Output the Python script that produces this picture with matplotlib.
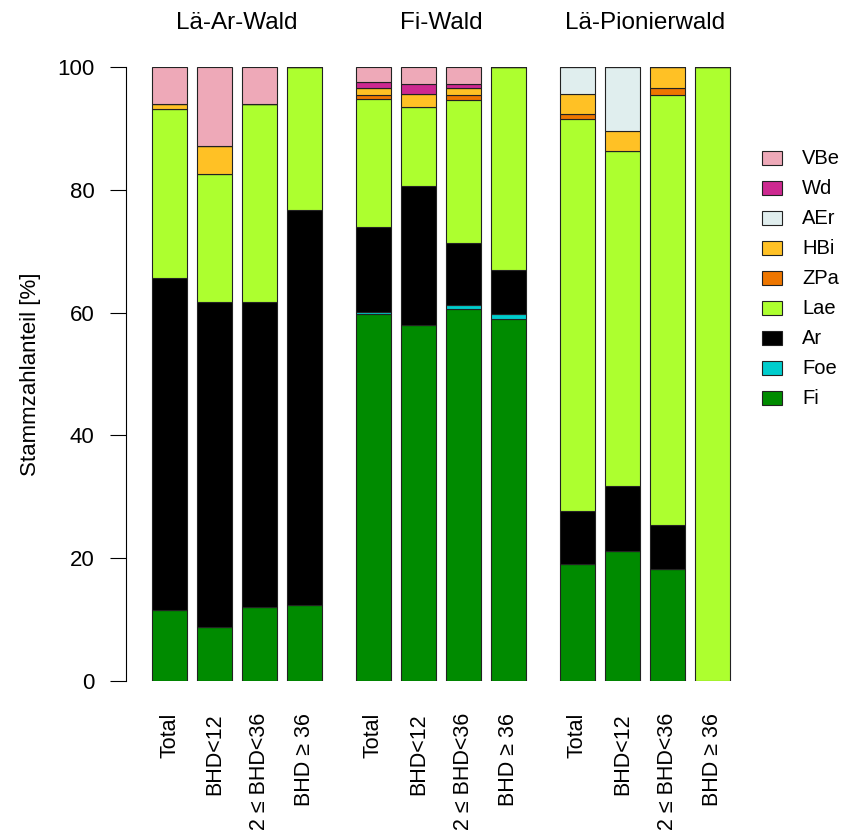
import matplotlib.pyplot as plt
import numpy as np
from matplotlib.patches import Rectangle

plt.rcParams['font.family'] = ['Liberation Sans', 'DejaVu Sans']

groups = ['Lä-Ar-Wald', 'Fi-Wald', 'Lä-Pionierwald']
classes = ['Total', 'BHD<12', '12 ≤ BHD<36', 'BHD ≥ 36']

# species from bottom to top, 12 bars (3 groups x 4 classes)
species = ['Fi', 'Foe', 'Ar', 'Lae', 'ZPa', 'HBi', 'AEr', 'Wd', 'VBe']
Fi  = [11.6, 8.8, 12.0, 12.3,  59.8, 58.0, 60.6, 59.0,  19.1, 21.1, 18.2, 0]
Foe = [0, 0, 0, 0,             0.3, 0, 0.6, 0.7,        0, 0, 0, 0]
Ar  = [54.0, 52.9, 49.8, 64.4, 13.8, 22.6, 10.1, 7.3,   8.6, 10.6, 7.2, 0]
Lae = [27.5, 20.9, 32.1, 23.3, 20.9, 12.9, 23.4, 33.0,  63.9, 54.7, 70.0, 100]
ZPa = [0, 0, 0, 0,             0.6, 0, 0.7, 0,          0.7, 0, 1.1, 0]
HBi = [0.9, 4.6, 0, 0,         1.1, 2.1, 1.1, 0,        3.3, 3.1, 3.5, 0]
AEr = [0, 0, 0, 0,             0, 0, 0, 0,              4.4, 10.5, 0, 0]
Wd  = [0, 0, 0, 0,             1.1, 1.7, 0.8, 0,        0, 0, 0, 0]
VBe = [6.0, 12.8, 6.1, 0,      2.4, 2.7, 2.7, 0,        0, 0, 0, 0]
values = [Fi, Foe, Ar, Lae, ZPa, HBi, AEr, Wd, VBe]
colors = ['#008B00', '#00CDCD', '#000000', '#ADFF2F', '#EE7600',
          '#FFC125', '#E0EEEE', '#CD2990', '#EEA9B8']

fig = plt.figure(figsize=(8.48, 8.32), dpi=100)
W, H = 848, 832
ax = fig.add_axes([126 / W, (H - 681) / H, (745 - 126) / W, (681 - 67) / H])

gap = 0.533
x = np.array([g * (4 + gap) + i for g in range(3) for i in range(4)])

bottom = np.zeros(12)
for vals, col in zip(values, colors):
    vals = np.array(vals, dtype=float)
    ax.bar(x, vals, width=0.778, bottom=bottom, color=col,
           edgecolor='#222222', linewidth=0.8)
    bottom += vals

ax.set_xlim(-0.967, 12.79)
ax.set_ylim(0, 100)
ax.set_yticks([0, 20, 40, 60, 80, 100])
ax.tick_params(axis='y', length=11.5, width=0.8, pad=11, labelsize=16)
ax.set_xticks([])
for s in ['top', 'right', 'bottom']:
    ax.spines[s].set_visible(False)
ax.spines['left'].set_bounds(0, 100)
ax.spines['left'].set_linewidth(0.8)
ax.set_ylabel('Stammzahlanteil [%]', fontsize=16, labelpad=12)

# group titles
for g, name in enumerate(groups):
    ax.text(g * (4 + gap) + 1.5, 1.072, name, transform=ax.get_xaxis_transform(),
            ha='center', va='center', fontsize=17.5, clip_on=False)

# rotated class labels under the bars (the reference cuts the long ones off)
for xi, lab in zip(x, classes * 3):
    ax.text(xi, -5.2, lab, rotation=90, ha='center', va='top',
            fontsize=15.5, clip_on=False)

# legend drawn by hand, top to bottom
for k, (name, col) in enumerate(zip(species[::-1], colors[::-1])):
    yc = 158 + 30 * k
    fig.add_artist(Rectangle((762 / W, (H - yc - 7) / H), 20 / W, 14 / H,
                             transform=fig.transFigure, facecolor=col,
                             edgecolor='#222222', linewidth=0.8))
    fig.text(802 / W, (H - yc) / H, name, ha='left', va='center', fontsize=14.5)

plt.savefig('out.png', dpi=100)
